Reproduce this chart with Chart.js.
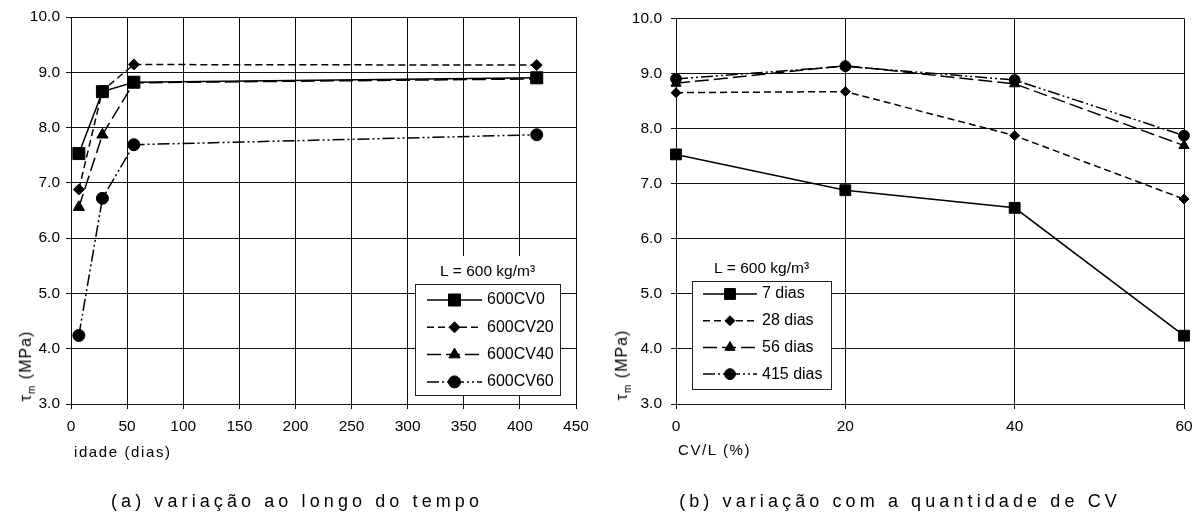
<!DOCTYPE html>
<html>
<head>
<meta charset="utf-8">
<script src="https://cdn.jsdelivr.net/npm/chart.js@4.4.0/dist/chart.umd.min.js"></script>
<style>
  body { margin: 0; background: #fff; font-family: 'Liberation Sans', Arial, sans-serif; color: #000; }
  #page { position: relative; width: 1196px; height: 515px; overflow: hidden; }
  canvas { position: absolute; top: 0; }
  .ytitle { position: absolute; font-size: 16px; white-space: nowrap; letter-spacing: 1px;
            transform: translate(-50%, -50%) rotate(-90deg); }
  .ytitle sub { font-size: 10px; }
  .xtitle { position: absolute; font-size: 15px; letter-spacing: 1.6px; white-space: nowrap; }
  .caption { position: absolute; font-size: 18px; letter-spacing: 4.1px; white-space: nowrap;
             transform: translateX(-50%); }
</style>
</head>
<body>
<div id="page">
  <canvas id="timeChart" width="590" height="515" style="left:0"></canvas>
  <canvas id="cvChart" width="606" height="515" style="left:590px"></canvas>

  <div class="ytitle" style="left:27px; top:366px">τ<sub>m</sub> (MPa)</div>
  <div class="xtitle" style="left:74px; top:443px">idade (dias)</div>
  <div class="caption" style="left:297px; top:491px">(a) variação ao longo do tempo</div>

  <div class="ytitle" style="left:623px; top:365px">τ<sub>m</sub> (MPa)</div>
  <div class="xtitle" style="left:678px; top:441px">CV/L (%)</div>
  <div class="caption" style="left:900px; top:491px">(b) variação com a quantidade de CV</div>
</div>

<script>
// mean bond stress (MPa) per mix, at 7, 28, 56 and 415 days
const ageDays = [7, 28, 56, 415];
const cvRatio = [0, 20, 40, 60];
const mixLabels = ['600CV0', '600CV20', '600CV40', '600CV60'];
const ageLabels = ['7 dias', '28 dias', '56 dias', '415 dias'];

const tauCV0 = [7.53, 8.65, 8.82, 8.90];
const tauCV20 = [6.88, 8.67, 9.14, 9.13];
const tauCV40 = [6.56, 7.87, 8.81, 8.88];
const tauCV60 = [4.24, 6.72, 7.69, 7.87];

const legendTitle = 'L = 600 kg/m³';

Chart.defaults.font.family = "'Liberation Sans', Arial, sans-serif";
Chart.defaults.font.size = 15.5;
Chart.defaults.color = '#000';

// one line style per series: solid, short dash, long dash, dash-dot-dot
const lineStyles = [
    { dash: [], pointStyle: 'rect', radius: 8.5 },
    { dash: [7, 4], pointStyle: 'rectRot', radius: 5.5 },
    { dash: [14, 5], pointStyle: 'triangle', radius: 6.5 },
    { dash: [12, 3, 2, 3, 2, 3], pointStyle: 'circle', radius: 6 }
];

function makeDataset(label, xs, ys, style) {
    return {
        label: label,
        data: xs.map((x, i) => ({ x: x, y: ys[i] })),
        borderColor: '#000',
        backgroundColor: '#000',
        borderWidth: 1.5,
        borderDash: style.dash,
        pointStyle: style.pointStyle,
        pointRadius: style.radius,
        pointBorderWidth: 1,
        pointBorderColor: '#000',
        pointBackgroundColor: '#000',
        tension: 0,
        clip: false
    };
}

// boxed legend with a line sample and marker for each dataset
const legendBox = {
    id: 'legendBox',
    afterDraw(chart, args, opts) {
        const ctx = chart.ctx;
        const { left, top, width, height, rowTop, rowGap, sampleWidth } = opts;
        ctx.save();
        ctx.fillStyle = '#fff';
        ctx.fillRect(left, top - 28, width, 28);
        ctx.fillRect(left, top, width, height);
        ctx.strokeStyle = '#222';
        ctx.lineWidth = 1;
        ctx.strokeRect(left + 0.5, top + 0.5, width, height);

        ctx.fillStyle = '#000';
        ctx.font = "15.5px 'Liberation Sans', Arial, sans-serif";
        ctx.textAlign = 'center';
        ctx.textBaseline = 'middle';
        ctx.fillText(opts.title, left + width / 2, top - 12);

        ctx.font = "16px 'Liberation Sans', Arial, sans-serif";
        chart.data.datasets.forEach((ds, i) => {
            const y = top + rowTop + i * rowGap;
            const x0 = left + opts.sampleLeft;
            ctx.strokeStyle = '#000';
            ctx.lineWidth = 1.5;
            ctx.setLineDash(ds.borderDash);
            ctx.beginPath();
            ctx.moveTo(x0, y);
            ctx.lineTo(x0 + sampleWidth, y);
            ctx.stroke();
            ctx.setLineDash([]);
            ctx.fillStyle = '#000';
            ctx.lineWidth = 1;
            Chart.helpers.drawPoint(ctx, {
                pointStyle: ds.pointStyle, radius: ds.pointRadius, rotation: 0, borderWidth: 1
            }, x0 + sampleWidth / 2, y);
            ctx.textAlign = 'left';
            ctx.fillText(ds.label, x0 + sampleWidth + 5, y);
        });
        ctx.restore();
    }
};

function makeOptions(cfg) {
    return {
        responsive: false,
        animation: false,
        events: [],
        layout: { padding: { top: 17, right: cfg.padRight, left: 0, bottom: 0 } },
        plugins: {
            legend: { display: false },
            tooltip: { enabled: false },
            legendBox: cfg.legend
        },
        scales: {
            x: {
                type: 'linear',
                min: cfg.xMin,
                max: cfg.xMax,
                ticks: { stepSize: cfg.xStep, padding: 8, maxRotation: 0 },
                grid: { color: '#111', lineWidth: 1, tickLength: 5 },
                border: { color: '#111', width: 1 },
                afterFit: s => {
                    s.height = 111;
                    // the end labels fit in the layout padding, no extra room needed
                    s.paddingLeft = 0;
                    s.paddingRight = 0;
                }
            },
            y: {
                min: 3,
                max: 10,
                ticks: { stepSize: 1, padding: cfg.yPad, callback: v => v.toFixed(1) },
                grid: { color: '#111', lineWidth: 1, tickLength: 5 },
                border: { color: '#111', width: 1 },
                afterFit: s => { s.width = cfg.yWidth; }
            }
        }
    };
}

const mixSeries = [tauCV0, tauCV20, tauCV40, tauCV60];

// (a) stress against age, one line per mix
new Chart(document.getElementById('timeChart'), {
    type: 'line',
    data: {
        datasets: mixSeries.map((ys, i) => makeDataset(mixLabels[i], ageDays, ys, lineStyles[i]))
    },
    options: makeOptions({
        xMin: 0, xMax: 450, xStep: 50, yWidth: 71, yPad: 6, padRight: 14,
        legend: {
            title: legendTitle, left: 415, top: 284, width: 145, height: 111,
            rowTop: 16, rowGap: 27.3, sampleLeft: 12, sampleWidth: 55
        }
    }),
    plugins: [legendBox]
});

// (b) stress against fly ash ratio, one line per age
const ageSeries = ageDays.map((_, a) => mixSeries.map(ys => ys[a]));
const smallStyles = lineStyles.map(s => Object.assign({}, s, { radius: s.radius * 0.9 }));

new Chart(document.getElementById('cvChart'), {
    type: 'line',
    data: {
        datasets: ageSeries.map((ys, i) => makeDataset(ageLabels[i], cvRatio, ys, smallStyles[i]))
    },
    options: makeOptions({
        xMin: 0, xMax: 60, xStep: 20, yWidth: 86, yPad: 9, padRight: 12,
        legend: {
            title: legendTitle, left: 102, top: 281, width: 139, height: 108,
            rowTop: 13, rowGap: 26.7, sampleLeft: 11, sampleWidth: 54
        }
    }),
    plugins: [legendBox]
});
</script>
</body>
</html>
